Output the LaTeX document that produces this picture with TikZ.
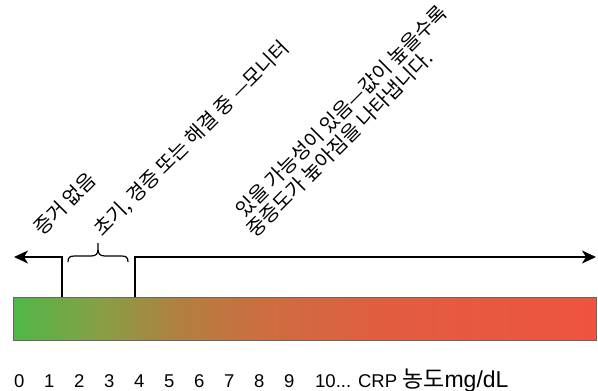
\documentclass[tikz,border=0pt]{standalone}
\usepackage{fontspec}
\setmainfont{Liberation Sans}
\newfontfamily\kr{Noto Sans CJK KR}
\usetikzlibrary{arrows.meta}
\definecolor{c0}{RGB}{80,183,72}
\definecolor{c1}{RGB}{136,158,69}
\definecolor{c2}{RGB}{176,128,64}
\definecolor{c3}{RGB}{204,110,64}
\definecolor{c4}{RGB}{226,92,64}
\definecolor{c5}{RGB}{238,84,64}
\pgfdeclarehorizontalshading{crp}{100bp}{color(0bp)=(c0); color(25bp)=(c0); color(32.5bp)=(c1); color(39bp)=(c2); color(46bp)=(c3); color(57.5bp)=(c4); color(75bp)=(c5); color(100bp)=(c5)}
\tikzset{
  arr/.style={line width=1.3pt, -{Stealth[length=14pt,width=13pt,inset=4pt]}},
  conn/.style={line width=1.3pt},
  lab/.style={font=\kr\fontsize{20}{23}\selectfont, rotate=45, anchor=base west, inner sep=0pt},
  num/.style={font=\fontsize{18.5}{21}\selectfont, anchor=base west, inner sep=0pt},
}
\begin{document}
\begin{tikzpicture}[x=1pt,y=-1pt]
\useasboundingbox (0,0) rectangle (598,391);
\node (bar) [shading=crp, draw=black!60, line width=0.6pt, minimum width=583pt, minimum height=43pt, inner sep=0pt] at (305,318.5) {};
\coordinate (l1) at (62,297);
\coordinate (la) at (14,257);
\coordinate (r1) at (135,297);
\coordinate (ra) at (596,257);
\draw[arr] (l1) |- (la);
\draw[arr] (r1) |- (ra);
\coordinate (b0) at (68,262);
\draw[conn, line width=1.2pt] (b0) .. controls (68,257) and (70,256) .. (75,256) -- (91,256) .. controls (96,256) and (98,254) .. (98,249) -- (98,243)
  (128,262) .. controls (128,257) and (126,256) .. (121,256) -- (105,256) .. controls (100,256) and (98,254) .. (98,249);
\node[lab] (t1) at (42,237) {증거 없음};
\node[lab] (t2) at (102,238) {초기, 경증 또는 해결 중 —모니터};
\node[lab] (t3a) at (244,219) {있을 가능성이 있음—값이 높을수록};
\node[lab] (t3b) at (255,239) {중증도가 높아짐을 나타냅니다.};
\foreach \i in {0,...,9} {
  \node[num] (n\i) at ({14+30*\i},387) {\i};
}
\node[num] (n10) at (315,387) {10... CRP {\fontsize{23}{25}\selectfont{\kr 농도}mg/dL}};
\end{tikzpicture}
\end{document}
